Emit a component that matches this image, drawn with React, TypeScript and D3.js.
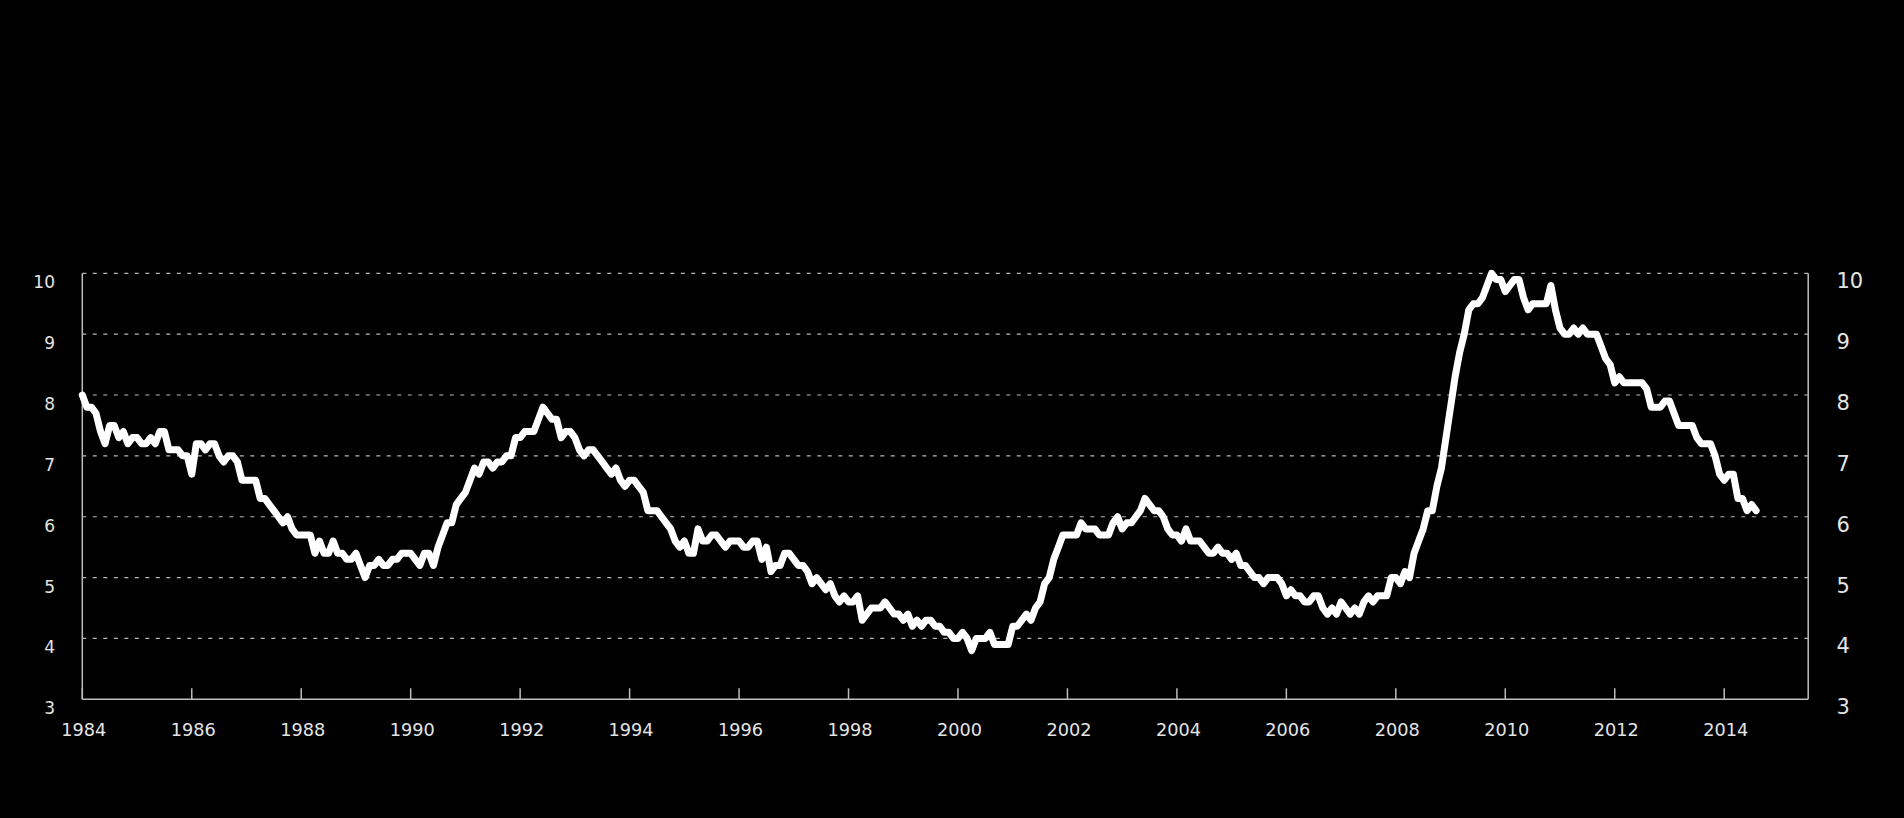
import React, { useEffect } from "react";
import * as d3 from "d3";

// Monthly unemployment rate (%), starting January 1984
const rates1984to1988 = [
  8.0, 7.8, 7.8, 7.7, 7.4, 7.2, 7.5, 7.5, 7.3, 7.4, 7.2, 7.3,
  7.3, 7.2, 7.2, 7.3, 7.2, 7.4, 7.4, 7.1, 7.1, 7.1, 7.0, 7.0,
  6.7, 7.2, 7.2, 7.1, 7.2, 7.2, 7.0, 6.9, 7.0, 7.0, 6.9, 6.6,
  6.6, 6.6, 6.6, 6.3, 6.3, 6.2, 6.1, 6.0, 5.9, 6.0, 5.8, 5.7,
  5.7, 5.7, 5.7, 5.4, 5.6, 5.4, 5.4, 5.6, 5.4, 5.4, 5.3, 5.3,
];
const rates1989to1993 = [
  5.4, 5.2, 5.0, 5.2, 5.2, 5.3, 5.2, 5.2, 5.3, 5.3, 5.4, 5.4,
  5.4, 5.3, 5.2, 5.4, 5.4, 5.2, 5.5, 5.7, 5.9, 5.9, 6.2, 6.3,
  6.4, 6.6, 6.8, 6.7, 6.9, 6.9, 6.8, 6.9, 6.9, 7.0, 7.0, 7.3,
  7.3, 7.4, 7.4, 7.4, 7.6, 7.8, 7.7, 7.6, 7.6, 7.3, 7.4, 7.4,
  7.3, 7.1, 7.0, 7.1, 7.1, 7.0, 6.9, 6.8, 6.7, 6.8, 6.6, 6.5,
];
const rates1994to1998 = [
  6.6, 6.6, 6.5, 6.4, 6.1, 6.1, 6.1, 6.0, 5.9, 5.8, 5.6, 5.5,
  5.6, 5.4, 5.4, 5.8, 5.6, 5.6, 5.7, 5.7, 5.6, 5.5, 5.6, 5.6,
  5.6, 5.5, 5.5, 5.6, 5.6, 5.3, 5.5, 5.1, 5.2, 5.2, 5.4, 5.4,
  5.3, 5.2, 5.2, 5.1, 4.9, 5.0, 4.9, 4.8, 4.9, 4.7, 4.6, 4.7,
  4.6, 4.6, 4.7, 4.3, 4.4, 4.5, 4.5, 4.5, 4.6, 4.5, 4.4, 4.4,
];
const rates1999to2003 = [
  4.3, 4.4, 4.2, 4.3, 4.2, 4.3, 4.3, 4.2, 4.2, 4.1, 4.1, 4.0,
  4.0, 4.1, 4.0, 3.8, 4.0, 4.0, 4.0, 4.1, 3.9, 3.9, 3.9, 3.9,
  4.2, 4.2, 4.3, 4.4, 4.3, 4.5, 4.6, 4.9, 5.0, 5.3, 5.5, 5.7,
  5.7, 5.7, 5.7, 5.9, 5.8, 5.8, 5.8, 5.7, 5.7, 5.7, 5.9, 6.0,
  5.8, 5.9, 5.9, 6.0, 6.1, 6.3, 6.2, 6.1, 6.1, 6.0, 5.8, 5.7,
];
const rates2004to2008 = [
  5.7, 5.6, 5.8, 5.6, 5.6, 5.6, 5.5, 5.4, 5.4, 5.5, 5.4, 5.4,
  5.3, 5.4, 5.2, 5.2, 5.1, 5.0, 5.0, 4.9, 5.0, 5.0, 5.0, 4.9,
  4.7, 4.8, 4.7, 4.7, 4.6, 4.6, 4.7, 4.7, 4.5, 4.4, 4.5, 4.4,
  4.6, 4.5, 4.4, 4.5, 4.4, 4.6, 4.7, 4.6, 4.7, 4.7, 4.7, 5.0,
  5.0, 4.9, 5.1, 5.0, 5.4, 5.6, 5.8, 6.1, 6.1, 6.5, 6.8, 7.3,
];
const rates2009to2014 = [
  7.8, 8.3, 8.7, 9.0, 9.4, 9.5, 9.5, 9.6, 9.8, 10.0, 9.9, 9.9,
  9.7, 9.8, 9.9, 9.9, 9.6, 9.4, 9.5, 9.5, 9.5, 9.5, 9.8, 9.4,
  9.1, 9.0, 9.0, 9.1, 9.0, 9.1, 9.0, 9.0, 9.0, 8.8, 8.6, 8.5,
  8.2, 8.3, 8.2, 8.2, 8.2, 8.2, 8.2, 8.1, 7.8, 7.8, 7.8, 7.9,
  7.9, 7.7, 7.5, 7.5, 7.5, 7.5, 7.3, 7.2, 7.2, 7.2, 7.0, 6.7,
  6.6, 6.7, 6.7, 6.3, 6.3, 6.1, 6.2, 6.1,
];

const startYear = 1984;
const xTickYears = [1984, 1986, 1988, 1990, 1992, 1994, 1996, 1998, 2000, 2002, 2004, 2006, 2008, 2010, 2012, 2014];
const yTickValues = [3, 4, 5, 6, 7, 8, 9, 10];
const gridValues = [4, 5, 6, 7, 8, 9, 10];

const allRates = [
  ...rates1984to1988,
  ...rates1989to1993,
  ...rates1994to1998,
  ...rates1999to2003,
  ...rates2004to2008,
  ...rates2009to2014,
];

const W = 1904;
const H = 818;
const left = 82.3;
const right = 1808.2;
const top = 273.3;
const bottom = 699.3;
const pxPerYear = 54.73;

export default function App() {
  useEffect(() => {
    document.body.style.margin = "0";
    document.body.style.background = "#000";
  }, []);

  const x = d3
    .scaleLinear()
    .domain([startYear, startYear + (right - left) / pxPerYear])
    .range([left, right]);
  const y = d3.scaleLinear().domain([3, 10]).range([bottom, top]);

  const points = allRates.map((v, i) => ({ t: startYear + i / 12, v }));
  const line = d3
    .line<{ t: number; v: number }>()
    .x((d) => x(d.t))
    .y((d) => y(d.v));

  const font = "'DejaVu Sans', Verdana, sans-serif";
  const textColor = "#e4e4e4";
  const axisColor = "#bdbdbd";

  return (
    <svg
      width={W}
      height={H}
      style={{ position: "absolute", left: 0, top: 0, display: "block", background: "#000" }}
    >
      <rect x={0} y={0} width={W} height={H} fill="#000" />
      {gridValues.map((g) => (
        <line
          key={"g" + g}
          x1={left}
          x2={right}
          y1={y(g)}
          y2={y(g)}
          stroke="#b8b8b8"
          strokeWidth={1.2}
          strokeDasharray="4,6.5"
        />
      ))}
      <line x1={left} x2={left} y1={top} y2={bottom} stroke={axisColor} strokeWidth={1.5} />
      <line x1={right} x2={right} y1={top} y2={bottom} stroke={axisColor} strokeWidth={1.5} />
      <line x1={left} x2={right} y1={bottom} y2={bottom} stroke={axisColor} strokeWidth={1.5} />
      {xTickYears.map((yr) => (
        <g key={"x" + yr}>
          <line x1={x(yr)} x2={x(yr)} y1={bottom} y2={bottom - 11} stroke={axisColor} strokeWidth={1.5} />
          <text
            x={x(yr) + 1.5}
            y={bottom + 37}
            textAnchor="middle"
            fontFamily={font}
            fontSize={17.7}
            fill={textColor}
          >
            {yr}
          </text>
        </g>
      ))}
      {yTickValues.map((v) => (
        <g key={"y" + v}>
          <text x={55} y={y(v) + 15} textAnchor="end" fontFamily={font} fontSize={17} fill={textColor}>
            {v}
          </text>
          <text x={1836.5} y={y(v) + 15} textAnchor="start" fontFamily={font} fontSize={21} fill={textColor}>
            {v}
          </text>
        </g>
      ))}
      <path
        d={line(points) || ""}
        fill="none"
        stroke="#fff"
        strokeWidth={7}
        strokeLinejoin="round"
        strokeLinecap="round"
      />
    </svg>
  );
}
